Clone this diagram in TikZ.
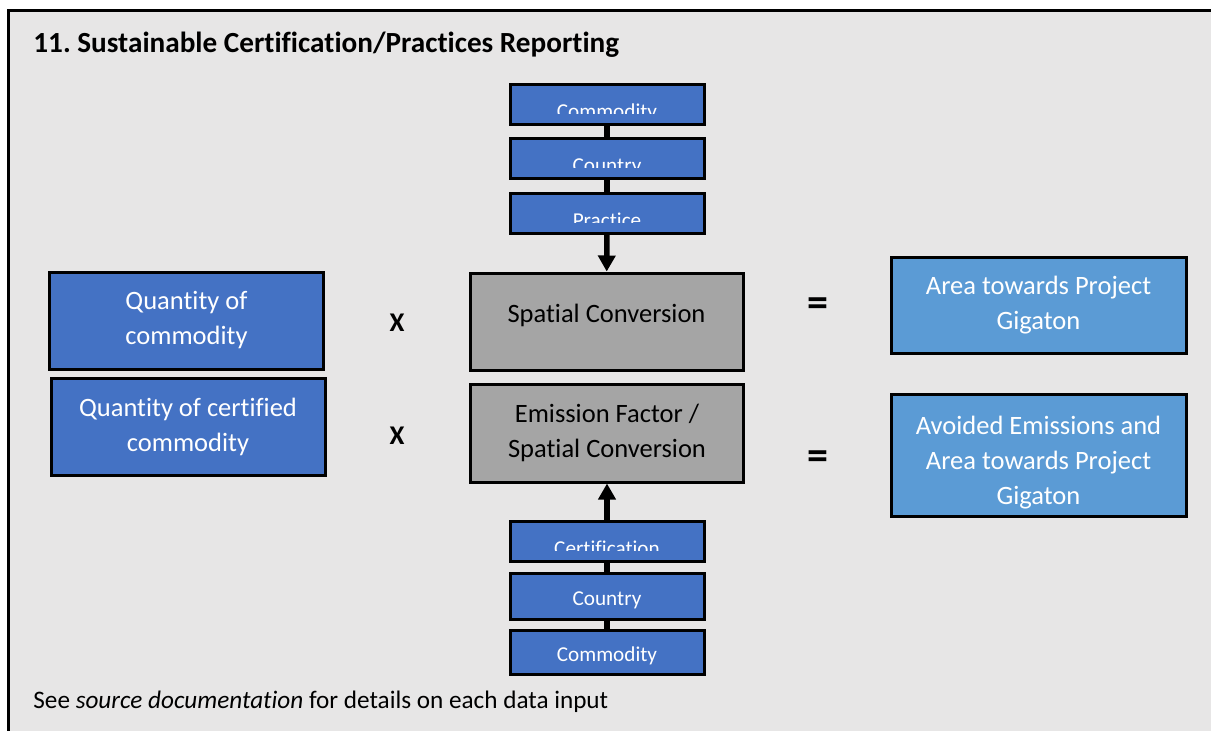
\documentclass[tikz,border=0pt]{standalone}
\usepackage{fontspec}
\setmainfont{Carlito}[Ligatures=NoCommon]
\frenchspacing
\usetikzlibrary{positioning, arrows.meta}
\definecolor{boxblue}{HTML}{4472C4}
\definecolor{resultblue}{HTML}{5B9BD5}
\definecolor{convgray}{HTML}{A5A5A5}
\definecolor{panelgray}{HTML}{E7E6E6}
\newcommand{\mainsize}{\fontsize{13.25pt}{17.5pt}\selectfont}
\newcommand{\smallsize}{\fontsize{10.6pt}{13pt}\selectfont}

\tikzset{
	box/.style={draw=black, line width=1.5pt, align=center, inner sep=0pt, font=\mainsize},
	qtybox/.style={box, fill=boxblue, text=white, minimum width=137pt, minimum height=48.5pt},
	convbox/.style={box, fill=convgray, text=black, minimum width=136.5pt, minimum height=48.5pt},
	resultbox/.style={box, fill=resultblue, text=white, minimum width=147.5pt},
	inputbox/.style={draw=black, line width=1.5pt, fill=boxblue, text=white, font=\smallsize, minimum width=97pt, minimum height=20pt, inner sep=0pt, text height=9pt, text depth=0pt},
	cutbox/.style={inputbox, path picture={
		\clip (path picture bounding box.north west) rectangle ([yshift=-14.5pt]path picture bounding box.north east);
		\node[anchor=base, text=white, font=\smallsize] at ([yshift=-17pt]path picture bounding box.north) {#1};}},
	link/.style={line width=2.8pt},
	feed/.style={link, -{Triangle[length=8pt, width=8.5pt]}},
	times/.style={font=\bfseries\fontsize{13.5pt}{16pt}\selectfont},
	equals/.style={font=\bfseries\fontsize{21pt}{22pt}\selectfont},
	caption/.style={anchor=base west, inner sep=0pt}
}

\begin{document}
\begin{tikzpicture}[x=0.5pt, y=-0.5pt]
	\clip (0,0) rectangle (1211,730);
	\draw[line width=1.5pt, fill=panelgray] (8,10) rectangle (1240,760);
	
	\node[caption, font=\bfseries\fontsize{14.6pt}{17pt}\selectfont] (title) at (33,52) {11. Sustainable Certification/Practices Reporting};
	
	\node[qtybox] (qcom) at (186.5,320.5) {Quantity of\\commodity};
	\node[qtybox] (qcert) at (188,427) {Quantity of certified\\commodity};
	\node[times] (times1) at (397,323) {X};
	\node[times] (times2) at (397,436) {X};
	\node[convbox] (spatial) at (606.5,321.5) {\raisebox{8pt}{Spatial Conversion}};
	\node[convbox, minimum height=49pt] (emission) at (607,433) {Emission Factor /\\Spatial Conversion};
	\node[equals] (eq1) at (818,307) {=};
	\node[equals] (eq2) at (818,460) {=};
	\node[resultbox, minimum height=48pt] (area) at (1038.5,305) {Area towards Project\\Gigaton};
	\node[resultbox, minimum height=61pt] (avoided) at (1038.5,455) {\rule{0pt}{16.5pt}Avoided Emissions and\\Area towards Project\\Gigaton};
	
	\node[cutbox=Commodity] (tcom) at (607,104.5) {};
	\node[cutbox=Country, below=5.5pt of tcom] (tctry) {};
	\node[cutbox=Practice, below=6pt of tctry] (tprac) {};
	\node[inputbox, minimum height=22pt] (bcom) at (607,652) {Commodity};
	\node[inputbox, minimum height=23pt, above=4pt of bcom] (bctry) {Country};
	\node[cutbox=Certification, above=4.5pt of bctry] (bcert) {};
	
	\draw[link] (tcom) -- (tctry);
	\draw[link] (tctry) -- (tprac);
	\draw[feed] (tprac) -- (spatial);
	\draw[link] (bcom) -- (bctry);
	\draw[link] (bctry) -- (bcert);
	\draw[feed] (bcert) -- (emission);
	
	\node[caption, font=\fontsize{12.6pt}{15pt}\selectfont] (note) at (33,708) {See \textit{source documentation} for details on each data input};
\end{tikzpicture}
\end{document}
